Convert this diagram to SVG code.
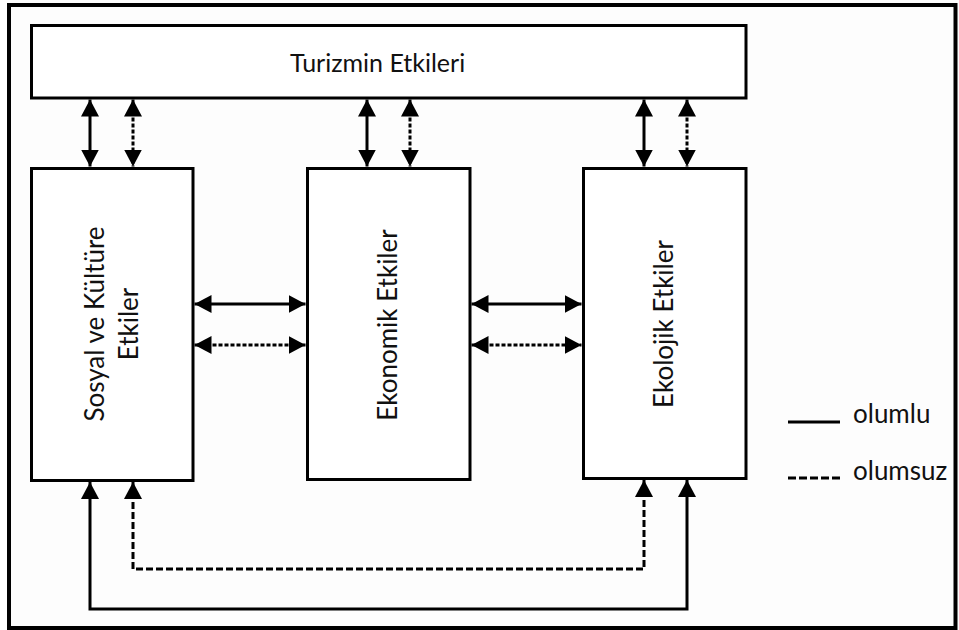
<svg xmlns="http://www.w3.org/2000/svg" width="959" height="630" viewBox="0 0 959 630">
<style>
  .box { fill: #ffffff; stroke: #000000; stroke-width: 3; }
  .lbl { font-family: Lato, "Open Sans", "Liberation Sans", sans-serif; font-size: 26px; fill: #111111; }
  .solid { fill: none; stroke: #000000; stroke-width: 3; }
  .dash { fill: none; stroke: #000000; stroke-width: 3; stroke-dasharray: 7 3; }
  .dashs { fill: none; stroke: #000000; stroke-width: 3; stroke-dasharray: 4 2; }
</style>
<defs>
  <marker id="ah" markerUnits="userSpaceOnUse" markerWidth="17" markerHeight="18" viewBox="0 0 17 18" refX="17" refY="9" orient="auto-start-reverse">
    <path d="M0,0 L17,9 L0,18 Z" fill="#000000"/>
  </marker>
</defs>
<rect x="0" y="0" width="959" height="630" fill="#fdfdfd"/>
<rect x="9" y="5" width="946.5" height="623" fill="none" stroke="#000000" stroke-width="4"/>

<g id="turizmin">
  <rect class="box" x="31.5" y="25.5" width="714.5" height="72.5"/>
  <text class="lbl" x="290" y="72" style="font-size:25px">Turizmin Etkileri</text>
</g>
<g id="sosyal">
  <rect class="box" x="31.5" y="168.5" width="161.5" height="312"/>
  <text class="lbl" text-anchor="middle" transform="translate(104,324) rotate(-90)">Sosyal ve Kültüre</text>
  <text class="lbl" text-anchor="middle" transform="translate(138,324) rotate(-90)">Etkiler</text>
</g>
<g id="ekonomik">
  <rect class="box" x="307.5" y="168.5" width="162.5" height="311"/>
  <text class="lbl" text-anchor="middle" transform="translate(397,325) rotate(-90)">Ekonomik Etkiler</text>
</g>
<g id="ekolojik">
  <rect class="box" x="583.5" y="168.5" width="162.5" height="310"/>
  <text class="lbl" text-anchor="middle" transform="translate(673,324) rotate(-90)">Ekolojik Etkiler</text>
</g>

<g id="connectors">
  <line class="solid" x1="90" y1="99.5" x2="90" y2="166.5" marker-start="url(#ah)" marker-end="url(#ah)"/>
  <line class="dashs" x1="133" y1="99.5" x2="133" y2="166.5" marker-start="url(#ah)" marker-end="url(#ah)"/>
  <line class="solid" x1="367" y1="99.5" x2="367" y2="166.5" marker-start="url(#ah)" marker-end="url(#ah)"/>
  <line class="dashs" x1="410" y1="99.5" x2="410" y2="166.5" marker-start="url(#ah)" marker-end="url(#ah)"/>
  <line class="solid" x1="644" y1="99.5" x2="644" y2="166.5" marker-start="url(#ah)" marker-end="url(#ah)"/>
  <line class="dashs" x1="687" y1="99.5" x2="687" y2="166.5" marker-start="url(#ah)" marker-end="url(#ah)"/>

  <line class="solid" x1="194.5" y1="304" x2="305.5" y2="304" marker-start="url(#ah)" marker-end="url(#ah)"/>
  <line class="dashs" x1="194.5" y1="345" x2="305.5" y2="345" marker-start="url(#ah)" marker-end="url(#ah)"/>
  <line class="solid" x1="471.5" y1="304" x2="581.5" y2="304" marker-start="url(#ah)" marker-end="url(#ah)"/>
  <line class="dashs" x1="471.5" y1="345" x2="581.5" y2="345" marker-start="url(#ah)" marker-end="url(#ah)"/>

  <path class="solid" d="M90,482 V609 H687 V480" marker-start="url(#ah)" marker-end="url(#ah)"/>
  <path class="dash" d="M133,482 V569 H644 V480" marker-start="url(#ah)" marker-end="url(#ah)"/>
</g>

<g id="legend">
  <line class="solid" x1="788" y1="422" x2="840" y2="422"/>
  <text class="lbl" x="853" y="423">olumlu</text>
  <line class="dash" x1="788" y1="478" x2="840" y2="478" style="stroke-dasharray:8 3"/>
  <text class="lbl" x="853" y="480">olumsuz</text>
</g>
</svg>
